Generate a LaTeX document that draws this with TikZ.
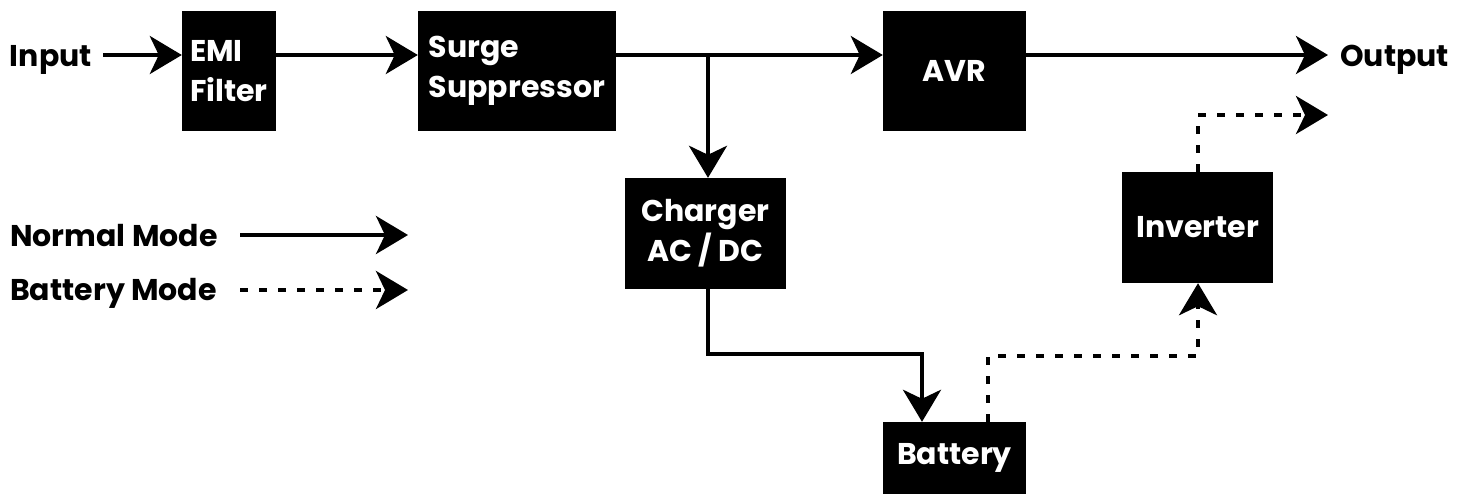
\documentclass[tikz,border=0pt]{standalone}
\usepackage{fontspec}
\setmainfont{Poppins}
\usepackage{tikz}
\usetikzlibrary{arrows.meta}
\usetikzlibrary{positioning}

\begin{document}
\begin{tikzpicture}
        [x=1pt,y=-1pt,
        block/.style={rectangle,fill=black,text=white,font=\bfseries\fontsize{30}{40}\selectfont,inner sep=0pt,align=center},
        tag/.style={font=\bfseries\fontsize{30}{36}\selectfont,inner sep=0pt},
        flow/.style={-{Stealth[length=32pt,width=38pt,inset=9pt]},line width=4pt},
        backup/.style={flow,dash pattern=on 8pt off 11pt}]

\useasboundingbox (0,0) rectangle (1469,499);

% blocks
\node[block,minimum width=94pt,minimum height=120pt,align=left] at (229,71) (emi) {EMI\\Filter};

\node[block,minimum width=198pt,minimum height=120pt,align=left] at (517,71) (surge) {Surge\\Suppressor};

\node[block,minimum width=143pt,minimum height=120pt] at (954.5,71) (avr) {AVR};

\node[block,minimum width=161pt,minimum height=111pt] at (705.5,233.5) (charger) {Charger\\AC / DC};

\node[block,minimum width=151pt,minimum height=111pt] at (1197.5,227.5) (inverter) {Inverter};

\node[block,minimum width=143pt,minimum height=72pt] at (954.5,458) (battery) {Battery};

% texts
\node[tag,anchor=base east] at (92,66) (input) {Input};
\node[tag,anchor=base west] at (1340,66) (output) {Output};
\node[tag,anchor=base west] at (10,246) (normaltag) {Normal Mode};
\node[tag,anchor=base west] at (10,300) (backuptag) {Battery Mode};

% corners
\coordinate (inp) at (103,55);
\coordinate (split) at (708,55);
\coordinate (outp) at (1328,55);
\coordinate (invout) at (1328,115);
\coordinate (chgbend) at (922,354);
\coordinate (batbend) at (988,356);
\coordinate (invbend) at (1198,356);
\coordinate (normalstart) at (240,235);
\coordinate (normalend) at (408,235);
\coordinate (backupstart) at (240,290);
\coordinate (backupend) at (408,290);

%arrows
\draw[flow] (inp) -- (inp -| emi.west);
\draw[flow] (emi.east |- inp) -- (surge.west |- inp);
\draw[flow] (surge.east |- inp) -- (avr.west |- inp);
\draw[flow] (avr.east |- inp) -- (outp);
\draw[flow] (split) -- (split |- charger.north);
\draw[flow] (split |- charger.south) |- (chgbend) -- (chgbend |- battery.north);
\draw[backup] (batbend |- battery.north) -- (batbend) -- (invbend) -- (invbend |- inverter.south);
\draw[backup] (invbend |- inverter.north) |- (invout);
\draw[flow] (normalstart) -- (normalend);
\draw[backup] (backupstart) -- (backupend);

\end{tikzpicture}
\end{document}
